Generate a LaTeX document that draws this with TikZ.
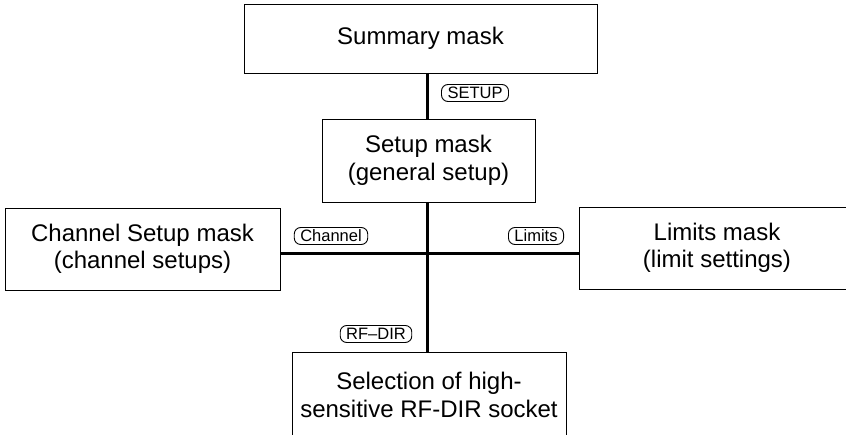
\documentclass[tikz,border=0pt]{standalone}
\usepackage{fontspec}
\setmainfont{Liberation Sans}
\begin{document}
\begin{tikzpicture}[x=1pt,y=-1pt,
  mask/.style={draw, line width=0.9pt, inner sep=0pt, outer sep=0pt, align=center,
    font=\fontsize{24}{27.5}\selectfont},
  keylbl/.style={draw, line width=0.9pt, rounded corners=6.5pt, inner xsep=6pt, inner ysep=2.5pt,
    text height=12pt, text depth=0pt, font=\fontsize{16.5}{18}\selectfont},
  conn/.style={line width=3pt}]
\useasboundingbox (0,0) rectangle (846,435);
\node[mask, minimum width=353pt, minimum height=69pt] (sum) at (420.5,38.5) {Summary mask};
\node[mask, minimum width=213pt, minimum height=83pt] (setup) at (428.5,160.5) {Setup mask\\(general setup)};
\node[mask, minimum width=275pt, minimum height=82pt] (chan) at (142.5,249) {Channel Setup mask\\(channel setups)};
\node[mask, minimum width=276pt, minimum height=82pt] (lim) at (717,248) {Limits mask\\(limit settings)};
\node[mask, minimum width=274pt, minimum height=86pt] (bot) at (429,395) {Selection of high-\\sensitive RF-DIR socket};
\coordinate (jn) at (427,254);
\draw[conn] (jn |- sum.south) -- (jn |- setup.north);
\draw[conn] (jn |- setup.south) -- (jn |- bot.north);
\draw[conn] (chan.east |- jn) -- (lim.west |- jn);
\node[keylbl] (k1) at (475,93) {SETUP};
\node[keylbl] (k2) at (331,236) {Channel};
\node[keylbl] (k3) at (536,236) {Limits};
\node[keylbl] (k4) at (376,334) {RF–DIR};
\end{tikzpicture}
\end{document}
